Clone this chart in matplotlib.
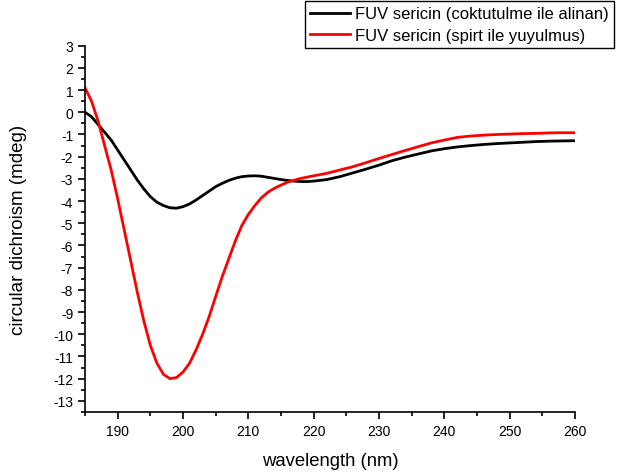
import matplotlib.pyplot as plt
from matplotlib.ticker import MultipleLocator

plt.rcParams['font.family'] = ['Liberation Sans', 'DejaVu Sans']
plt.rcParams['axes.unicode_minus'] = False

wl_black = [185, 186, 187, 188, 189, 190, 191, 192, 193, 194, 195, 196, 197, 198, 199,
            200, 201, 202, 203, 204, 205, 206, 207, 208, 209, 210, 211, 212, 213, 214,
            215, 216, 217, 218, 219, 220, 222, 224, 226, 228, 230, 232, 234, 236, 238,
            240, 242, 244, 246, 248, 250, 252, 254, 256, 258, 260]
cd_black = [0.0, -0.2, -0.55, -0.9, -1.25, -1.7, -2.15, -2.6, -3.05, -3.45, -3.8, -4.05,
            -4.2, -4.3, -4.32, -4.25, -4.13, -3.95, -3.75, -3.55, -3.35, -3.2, -3.07,
            -2.97, -2.9, -2.87, -2.86, -2.88, -2.93, -2.98, -3.03, -3.07, -3.1, -3.12,
            -3.12, -3.1, -3.03, -2.9, -2.73, -2.56, -2.38, -2.18, -2.02, -1.88, -1.74,
            -1.64, -1.56, -1.5, -1.45, -1.41, -1.38, -1.35, -1.32, -1.3, -1.29, -1.28]

wl_red = wl_black
cd_red = [1.1, 0.5, -0.4, -1.5, -2.6, -3.9, -5.3, -6.7, -8.1, -9.4, -10.5, -11.3, -11.8,
          -12.0, -11.95, -11.7, -11.3, -10.7, -10.0, -9.2, -8.3, -7.4, -6.6, -5.8, -5.1,
          -4.6, -4.2, -3.85, -3.6, -3.42, -3.28, -3.15, -3.06, -2.98, -2.92, -2.86,
          -2.75, -2.6, -2.45, -2.27, -2.08, -1.9, -1.72, -1.55, -1.38, -1.25, -1.13,
          -1.07, -1.03, -1.0, -0.98, -0.96, -0.95, -0.93, -0.92, -0.92]

labels = ['FUV sericin (coktutulme ile alinan)', 'FUV sericin (spirt ile yuyulmus)']

fig = plt.figure(figsize=(6.28, 4.77), dpi=100)
ax = fig.add_axes([0.1354, 0.1342, 0.7802, 0.7679])

ax.plot(wl_black, cd_black, color='black', lw=2, label=labels[0])
ax.plot(wl_red, cd_red, color='red', lw=2, label=labels[1])

ax.set_xlim(185, 260)
ax.set_ylim(-13.5, 3)
ax.xaxis.set_major_locator(MultipleLocator(10))
ax.xaxis.set_minor_locator(MultipleLocator(5))
ax.yaxis.set_major_locator(MultipleLocator(1))
ax.yaxis.set_minor_locator(MultipleLocator(0.5))

ax.spines['top'].set_visible(False)
ax.spines['right'].set_visible(False)
ax.spines['left'].set_linewidth(1.2)
ax.spines['bottom'].set_linewidth(1.2)
ax.tick_params(which='major', direction='out', length=5, width=1.2, labelsize=10)
ax.tick_params(which='minor', direction='out', length=3, width=1.2)

ax.set_xlabel('wavelength (nm)', fontsize=13.3, labelpad=10)
ax.set_ylabel('circular dichroism (mdeg)', fontsize=13.5, labelpad=8)
ax.yaxis.set_label_coords(-0.118, 0.5)

leg = fig.legend(loc='upper right', bbox_to_anchor=(0.978, 0.995), fontsize=12.0,
                 fancybox=False, framealpha=1, edgecolor='black', borderpad=0.3,
                 handlelength=2.4, handletextpad=0.3, labelspacing=0.38,
                 borderaxespad=0)
leg.get_frame().set_linewidth(1.0)

fig.savefig('out.png', dpi=100)
